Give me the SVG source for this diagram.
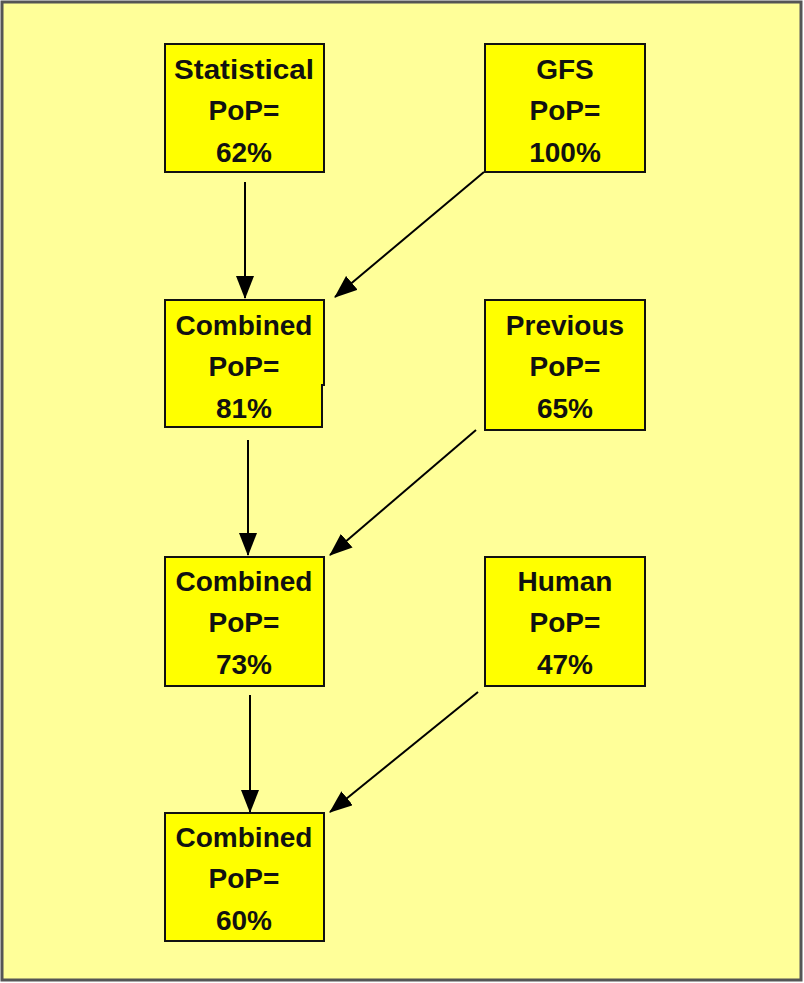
<svg xmlns="http://www.w3.org/2000/svg" width="804" height="983" viewBox="0 0 804 983">
<defs>
<marker id="ah" markerWidth="24" markerHeight="18" refX="22" refY="9" orient="auto" markerUnits="userSpaceOnUse">
<path d="M0,0 L23,9 L0,18 Z" fill="#000"/>
</marker>
<style>
.box{fill:#FFFF00;stroke:#111;stroke-width:2}
.t{font-family:"Liberation Sans",Arial,sans-serif;font-weight:bold;font-size:28px;fill:#111;text-anchor:middle}
.c{stroke:#000;stroke-width:2;fill:none;marker-end:url(#ah)}
</style>
</defs>
<rect x="2" y="2" width="799" height="978" fill="#FFFF99" stroke="#555" stroke-width="3"/>
<g id="connectors">
<line class="c" x1="245" y1="182" x2="245" y2="298"/>
<line class="c" x1="484" y1="172" x2="335" y2="297"/>
<line class="c" x1="248" y1="440" x2="248" y2="555"/>
<line class="c" x1="476" y1="430" x2="330" y2="555"/>
<line class="c" x1="250" y1="695" x2="250" y2="812"/>
<line class="c" x1="478" y1="692" x2="330" y2="812"/>
</g>
<g id="statistical">
<rect class="box" x="165" y="44" width="159" height="128"/>
<text class="t" x="244" y="79" textLength="140" lengthAdjust="spacingAndGlyphs">Statistical</text>
<text class="t" x="244" y="120">PoP=</text>
<text class="t" x="244" y="162">62%</text>
</g>
<g id="gfs">
<rect class="box" x="485" y="44" width="160" height="128"/>
<text class="t" x="565" y="79">GFS</text>
<text class="t" x="565" y="120">PoP=</text>
<text class="t" x="565" y="162">100%</text>
</g>
<g id="combined81">
<path class="box" d="M165,300 H324 V385 H322 V427 H165 Z"/>
<text class="t" x="244" y="335">Combined</text>
<text class="t" x="244" y="376">PoP=</text>
<text class="t" x="244" y="418">81%</text>
</g>
<g id="previous">
<rect class="box" x="485" y="300" width="160" height="130"/>
<text class="t" x="565" y="335">Previous</text>
<text class="t" x="565" y="376">PoP=</text>
<text class="t" x="565" y="418">65%</text>
</g>
<g id="combined73">
<rect class="box" x="165" y="557" width="159" height="129"/>
<text class="t" x="244" y="591">Combined</text>
<text class="t" x="244" y="632">PoP=</text>
<text class="t" x="244" y="674">73%</text>
</g>
<g id="human">
<rect class="box" x="485" y="557" width="160" height="129"/>
<text class="t" x="565" y="591">Human</text>
<text class="t" x="565" y="632">PoP=</text>
<text class="t" x="565" y="674">47%</text>
</g>
<g id="combined60">
<rect class="box" x="165" y="813" width="159" height="128"/>
<text class="t" x="244" y="847">Combined</text>
<text class="t" x="244" y="888">PoP=</text>
<text class="t" x="244" y="930">60%</text>
</g>
</svg>
